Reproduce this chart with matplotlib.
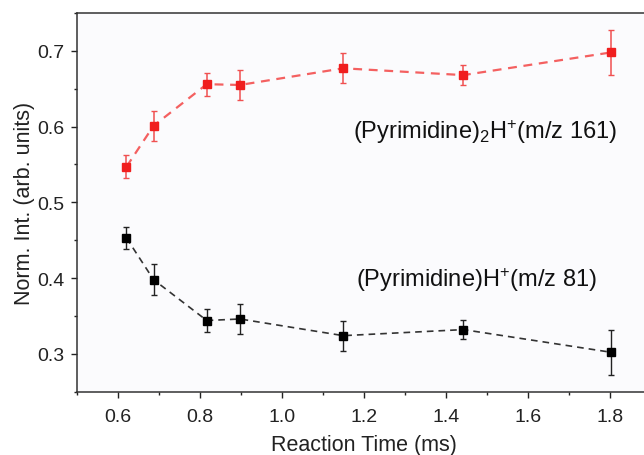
import matplotlib
matplotlib.use("Agg")
import matplotlib.pyplot as plt
from matplotlib.ticker import MultipleLocator

# Data
time_ms = [0.62, 0.686, 0.816, 0.897, 1.149, 1.442, 1.803]
dimer = [0.547, 0.601, 0.656, 0.655, 0.677, 0.668, 0.698]
dimer_err = [0.015, 0.020, 0.015, 0.020, 0.020, 0.013, 0.030]
monomer = [0.453, 0.398, 0.344, 0.346, 0.324, 0.332, 0.302]
monomer_err = [0.015, 0.020, 0.015, 0.020, 0.020, 0.013, 0.030]

plt.rcParams['font.family'] = ['Liberation Sans', 'DejaVu Sans']
plt.rcParams['mathtext.fontset'] = 'custom'
plt.rcParams['mathtext.rm'] = 'Liberation Sans'
plt.rcParams['mathtext.it'] = 'Liberation Sans'

fig = plt.figure(figsize=(6.44, 4.56), dpi=100)
ax = fig.add_axes([0.12, 0.1388, 0.891, 0.8305])
ax.set_facecolor('#fbfbfd')

# red: dimer
ax.errorbar(time_ms, dimer, yerr=dimer_err, fmt='s', color='#f01e1e',
            ecolor='#f05050', elinewidth=1.1, capsize=2.5, capthick=1.0,
            markersize=6, zorder=3)
ax.plot(time_ms, dimer, ls=(0, (4, 3)), color='#f46060', lw=1.6, zorder=2)

# black: monomer
ax.errorbar(time_ms, monomer, yerr=monomer_err, fmt='s', color='black',
            ecolor='#222222', elinewidth=1.0, capsize=2.5, capthick=1.0,
            markersize=6, zorder=3)
ax.plot(time_ms, monomer, ls=(0, (4, 3)), color='#333333', lw=1.2, zorder=2)

ax.text(1.172, 0.594, r'(Pyrimidine)$_2$H$^{+}$(m/z 161)', fontsize=17,
        va='center', ha='left', color='#111111')
ax.text(1.180, 0.399, r'(Pyrimidine)H$^{+}$(m/z 81)', fontsize=17,
        va='center', ha='left', color='#111111')

ax.set_xlim(0.5, 1.9)
ax.set_ylim(0.25, 0.75)
ax.xaxis.set_major_locator(MultipleLocator(0.2))
ax.xaxis.set_minor_locator(MultipleLocator(0.1))
ax.yaxis.set_major_locator(MultipleLocator(0.1))
ax.yaxis.set_minor_locator(MultipleLocator(0.05))
ax.set_xticks([0.6, 0.8, 1.0, 1.2, 1.4, 1.6, 1.8])
ax.tick_params(which='major', direction='out', length=4.5, width=1.0,
               labelsize=14, colors='#222222', pad=5)
ax.tick_params(axis='x', which='major', pad=7)
ax.tick_params(which='minor', direction='out', length=2.5, width=1.0,
               colors='#222222')

for s in ax.spines.values():
    s.set_linewidth(1.1)
    s.set_color('#333333')

ax.set_xlabel('Reaction Time (ms)', fontsize=15.5, color='#222222', labelpad=7)
ax.set_ylabel('Norm. Int. (arb. units)', fontsize=15.5, color='#222222', labelpad=1)

fig.savefig('out.png', dpi=100, facecolor='white')
